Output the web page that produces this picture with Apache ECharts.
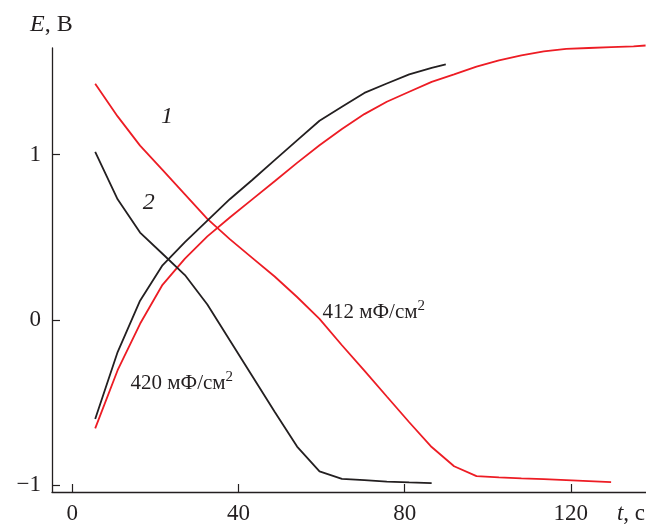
<!DOCTYPE html>
<html>
<head>
<meta charset="utf-8">
<script src="https://cdn.jsdelivr.net/npm/echarts@6/dist/echarts.min.js"></script>
<style>
html,body{margin:0;padding:0;background:#fff;}
#c{width:646px;height:525px;}
</style>
</head>
<body>
<div id="c"></div>
<script>
// time grid, s
const tDec = [5.5, 10.9, 16.3, 21.7, 27.1, 32.5, 37.9, 43.3, 48.7, 54.1, 59.5, 64.9, 70.3, 75.7, 81.1, 86.5];
// curve 2 (black, 420 mF/cm2) discharge
const blackDown = [1.017, 0.729, 0.528, 0.40, 0.271, 0.093, -0.124, -0.34, -0.556, -0.767, -0.917, -0.962, -0.970, -0.979, -0.984, -0.988];
// curve 2 (black) charge
const tBlackUp = [5.5, 10.9, 16.3, 21.7, 27.1, 32.5, 37.9, 43.3, 48.7, 54.1, 59.5, 64.9, 70.3, 75.7, 81.1, 86.5, 89.9];
const blackUp = [-0.60, -0.195, 0.116, 0.33, 0.47, 0.60, 0.73, 0.846, 0.966, 1.086, 1.205, 1.289, 1.373, 1.43, 1.485, 1.525, 1.546];
// curve 1 (red, 412 mF/cm2) discharge
const tRedDown = [5.5, 10.9, 16.3, 21.7, 27.1, 32.5, 37.9, 43.3, 48.7, 54.1, 59.5, 64.9, 70.3, 75.7, 81.1, 86.5, 91.9, 97.3, 102.7, 108.1, 113.5, 118.9, 124.3, 129.7];
const redDown = [1.428, 1.231, 1.054, 0.908, 0.759, 0.611, 0.488, 0.375, 0.262, 0.138, 0.006, -0.154, -0.307, -0.464, -0.62, -0.77, -0.886, -0.946, -0.953, -0.959, -0.964, -0.970, -0.976, -0.982];
// curve 1 (red) charge
const tRedUp = [5.5, 10.9, 16.3, 21.7, 27.1, 32.5, 37.9, 43.3, 48.7, 54.1, 59.5, 64.9, 70.3, 75.7, 81.1, 86.5, 91.9, 97.3, 102.7, 108.1, 113.5, 118.9, 124.3, 129.7, 135.1, 138.0];
const redUp = [-0.657, -0.305, -0.024, 0.212, 0.37, 0.505, 0.619, 0.729, 0.839, 0.95, 1.056, 1.155, 1.245, 1.32, 1.38, 1.44, 1.485, 1.532, 1.57, 1.60, 1.625, 1.64, 1.645, 1.65, 1.655, 1.66];

const xTicks = [0, 40, 80, 120];
const yTicks = [-1, 0, 1];
const yTickLabels = ['\u22121', '0', '1'];

const FONT = '"Liberation Serif", "DejaVu Serif", serif';
const INK = '#231f20';
const RED = '#ed1c24';

function pairs(xs, ys) { return xs.map((x, i) => [x, ys[i]]); }

const chart = echarts.init(document.getElementById('c'), null, {renderer: 'canvas'});

const lineSeries = (data, color) => ({
  type: 'line', data: data, showSymbol: false, smooth: false, clip: false,
  lineStyle: {color: color, width: 1.8}, itemStyle: {color: color}, animation: false
});

chart.setOption({
  animation: false,
  backgroundColor: '#fff',
  grid: {left: 52, right: 0, top: 48, bottom: 31, containLabel: false},
  xAxis: {
    type: 'value', min: -4.9, max: 138.1,
    splitLine: {show: false},
    axisLine: {show: true, onZero: false, lineStyle: {color: INK, width: 1.3}},
    axisTick: {show: true, inside: true, length: 8, customValues: xTicks, lineStyle: {color: INK, width: 1.2}},
    axisLabel: {show: true, customValues: xTicks, margin: 10, fontFamily: FONT, fontSize: 23, color: INK}
  },
  yAxis: {
    type: 'value', min: -1.042, max: 1.645,
    splitLine: {show: false},
    axisLine: {show: true, onZero: false, lineStyle: {color: INK, width: 1.3}},
    axisTick: {show: true, inside: true, length: 8, customValues: yTicks, lineStyle: {color: INK, width: 1.2}},
    axisLabel: {show: true, customValues: yTicks, margin: 11, fontFamily: FONT, fontSize: 23, color: INK,
      formatter: v => yTickLabels[yTicks.indexOf(Math.round(v))] }
  },
  series: [
    lineSeries(pairs(tRedDown, redDown), RED),
    lineSeries(pairs(tRedUp, redUp), RED),
    lineSeries(pairs(tDec, blackDown), INK),
    lineSeries(pairs(tBlackUp, blackUp), INK)
  ]
});

function px(t, e) { return chart.convertToPixel({gridIndex: 0}, [t, e]); }

const p1 = px(22.8, 1.231);
const p2 = px(18.4, 0.709);
const pA = px(60.2, 0.045);
const pB = px(14.0, -0.385);

const annRich = {
  n: {fontFamily: FONT, fontSize: 21, fill: INK, color: INK},
  s: {fontFamily: FONT, fontSize: 15, fill: INK, color: INK, padding: [0, 0, 12, 0]}
};

chart.setOption({
  graphic: [
    {type: 'text', x: p1[0], y: p1[1], style: {text: '1', fontFamily: FONT, fontStyle: 'italic', fontSize: 24, fill: INK, align: 'center', verticalAlign: 'middle'}},
    {type: 'text', x: p2[0], y: p2[1], style: {text: '2', fontFamily: FONT, fontStyle: 'italic', fontSize: 24, fill: INK, align: 'center', verticalAlign: 'middle'}},
    {type: 'text', x: pA[0], y: pA[1], style: {text: '{n|412 мФ/см}{s|2}', rich: annRich, align: 'left', verticalAlign: 'middle'}},
    {type: 'text', x: pB[0], y: pB[1], style: {text: '{n|420 мФ/см}{s|2}', rich: annRich, align: 'left', verticalAlign: 'middle'}},
    {type: 'text', left: 30, top: 13, style: {text: '{i|E}{n|, В}', rich: {
      i: {fontFamily: FONT, fontStyle: 'italic', fontSize: 24, fill: INK, color: INK},
      n: {fontFamily: FONT, fontSize: 24, fill: INK, color: INK}}}},
    {type: 'text', right: 1, top: 502, style: {text: '{i|t}{n|, с}', rich: {
      i: {fontFamily: FONT, fontStyle: 'italic', fontSize: 23, fill: INK, color: INK},
      n: {fontFamily: FONT, fontSize: 23, fill: INK, color: INK}}}}
  ]
});
</script>
</body>
</html>
